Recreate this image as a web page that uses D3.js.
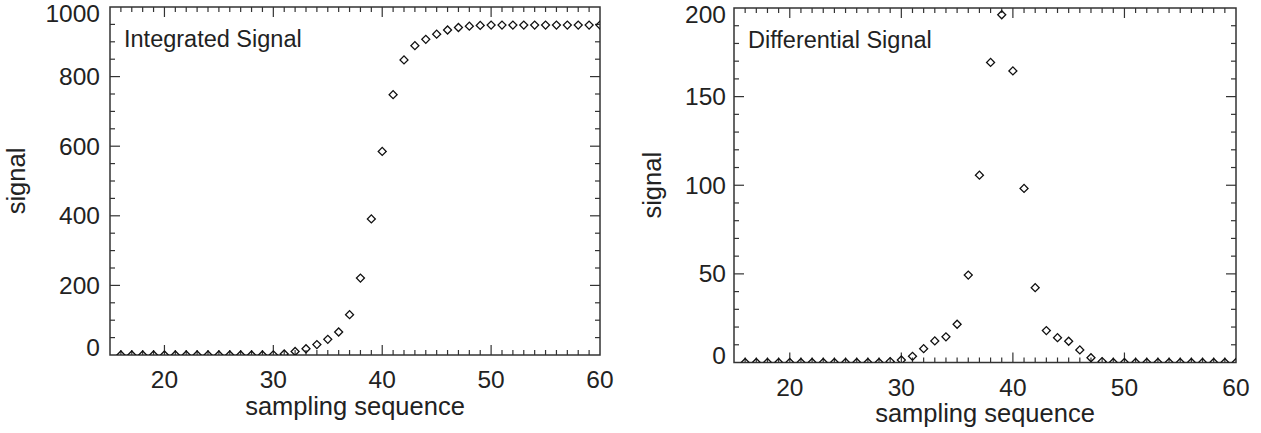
<!DOCTYPE html>
<html>
<head>
<meta charset="utf-8">
<script src="https://cdn.jsdelivr.net/npm/d3@7"></script>
<style>
  body { margin: 0; background: #fff; }
  svg { display: block; }
  text { font-family: "Liberation Sans", Arial, Helvetica, sans-serif; fill: #222; }
</style>
</head>
<body>
<svg></svg>
<script>
var WIDTH = 1261;
var HEIGHT = 433;

// sampling sequence (x values)
var samples = d3.range(16, 61);

// integrated signal
var integrated = [
  0, 0, 0, 0, 0, 0, 0, 0, 0, 0, 0, 0, 0, 0, 0.5,      // 16-30
  3, 10, 18, 30, 45, 66, 116, 221, 391, 585,          // 31-40
  748, 848, 889, 907, 922, 934, 941, 945, 947, 948,   // 41-50
  948, 948, 948, 948, 948, 948, 948, 948, 948, 948    // 51-60
];

// differential signal
var differential = [
  0, 0, 0, 0, 0, 0, 0, 0, 0, 0, 0, 0, 0, 0.5, 1.4,    // 16-30
  3.5, 7.8, 12.2, 14.5, 21.6, 49.3, 105.7, 169.3, 196.2, 164.5, // 31-40
  98.2, 42.2, 18, 14, 12, 7.1, 2.7, 0.5, 0, 0,        // 41-50
  0, 0, 0, 0, 0, 0, 0, 0, 0, 0                        // 51-60
];

var xTicks = [20, 30, 40, 50, 60];
var leftYTicks = [0, 200, 400, 600, 800, 1000];
var rightYTicks = [0, 50, 100, 150, 200];

var svg = d3.select('svg')
  .attr('width', WIDTH)
  .attr('height', HEIGHT);

var panels = [
  {
    id: 'left', title: 'Integrated Signal', values: integrated,
    left: 110, right: 600, top: 7, bottom: 355,
    yMax: 1000, yTicks: leftYTicks, yMinorStep: 50,
    yTitleX: 25, xTitleY: 415, labelGap: 10
  },
  {
    id: 'right', title: 'Differential Signal', values: differential,
    left: 734, right: 1236, top: 8, bottom: 362.5,
    yMax: 200, yTicks: rightYTicks, yMinorStep: 10,
    yTitleX: 661, xTitleY: 422, labelGap: 8
  }
];

var frameColor = '#333';

panels.forEach(function(p) {
  var xScale = d3.scaleLinear().domain([15, 60]).range([p.left, p.right]);
  var yScale = d3.scaleLinear().domain([0, p.yMax]).range([p.bottom, p.top]);
  var g = svg.append('g');

  // clip for the markers
  svg.append('clipPath').attr('id', 'clip-' + p.id)
    .append('rect')
    .attr('x', p.left).attr('y', p.top)
    .attr('width', p.right - p.left).attr('height', p.bottom - p.top);

  var xMinor = d3.range(16, 60);
  var yMinor = d3.range(p.yMinorStep, p.yMax, p.yMinorStep);

  // ticks on all four sides, pointing inward
  var tickG = g.append('g').attr('stroke', frameColor).attr('stroke-width', 1.2);
  xMinor.forEach(function(v) {
    var major = v % 10 === 0;
    var len = major ? 10 : 5;
    tickG.append('line')
      .attr('x1', xScale(v)).attr('x2', xScale(v))
      .attr('y1', p.bottom).attr('y2', p.bottom - len);
    tickG.append('line')
      .attr('x1', xScale(v)).attr('x2', xScale(v))
      .attr('y1', p.top).attr('y2', p.top + len);
  });
  yMinor.forEach(function(v) {
    var major = p.yTicks.indexOf(v) >= 0;
    var len = major ? 10 : 5;
    tickG.append('line')
      .attr('x1', p.left).attr('x2', p.left + len)
      .attr('y1', yScale(v)).attr('y2', yScale(v));
    tickG.append('line')
      .attr('x1', p.right).attr('x2', p.right - len)
      .attr('y1', yScale(v)).attr('y2', yScale(v));
  });

  // frame
  g.append('rect')
    .attr('x', p.left).attr('y', p.top)
    .attr('width', p.right - p.left).attr('height', p.bottom - p.top)
    .attr('fill', 'none').attr('stroke', frameColor).attr('stroke-width', 1.5);

  // x tick labels
  g.selectAll('.xlab').data(xTicks).enter().append('text')
    .attr('x', function(d) { return xScale(d); })
    .attr('y', p.bottom + 33)
    .attr('text-anchor', 'middle')
    .style('font-size', '24.5px')
    .text(function(d) { return d; });

  // y tick labels, ends kept inside the frame height
  g.selectAll('.ylab').data(p.yTicks).enter().append('text')
    .attr('x', p.left - p.labelGap)
    .attr('y', function(d) {
      var c = Math.max(p.top + 6.5, Math.min(p.bottom - 7.5, yScale(d)));
      return c + 8.5;
    })
    .attr('text-anchor', 'end')
    .style('font-size', '24.5px')
    .text(function(d) { return d; });

  // axis titles
  g.append('text')
    .attr('x', (p.left + p.right) / 2)
    .attr('y', p.xTitleY)
    .attr('text-anchor', 'middle')
    .style('font-size', '25.5px')
    .text('sampling sequence');

  g.append('text')
    .attr('transform', 'translate(' + p.yTitleX + ',' + (p.top + p.bottom) / 2 + ') rotate(-90)')
    .attr('text-anchor', 'middle')
    .style('font-size', '25.5px')
    .text('signal');

  // panel title
  g.append('text')
    .attr('x', p.left + 14)
    .attr('y', p.top + 40)
    .style('font-size', '23.5px')
    .text(p.title);

  // diamonds
  var symbol = d3.symbol().type(d3.symbolSquare).size(32);
  g.append('g').attr('clip-path', 'url(#clip-' + p.id + ')')
    .selectAll('path')
    .data(samples)
    .enter()
    .append('path')
    .attr('d', symbol)
    .attr('transform', function(d, i) {
      return 'translate(' + xScale(d) + ',' + yScale(p.values[i]) + ') rotate(45)';
    })
    .attr('fill', 'none')
    .attr('stroke', '#111')
    .attr('stroke-width', 1.3);
});
</script>
</body>
</html>
